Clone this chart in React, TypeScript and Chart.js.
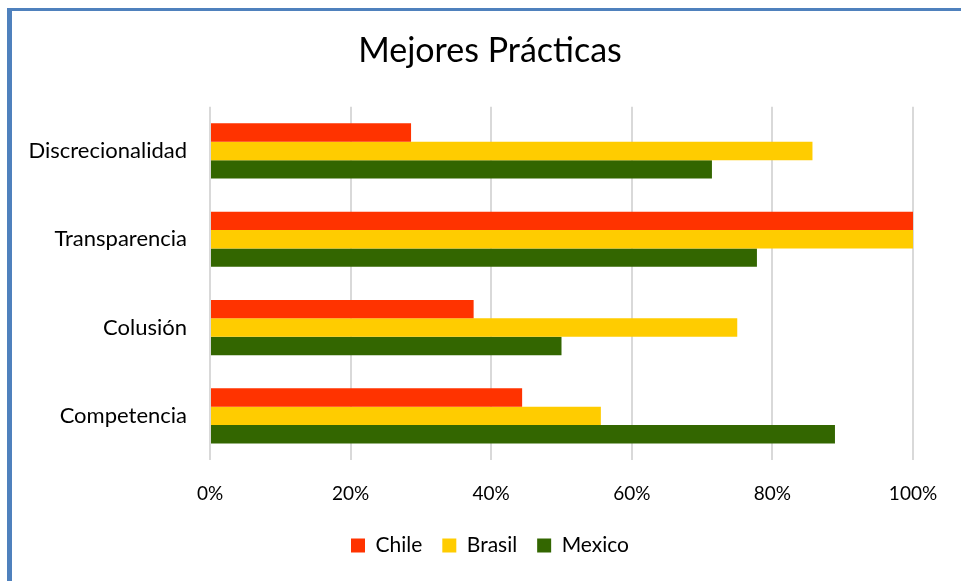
import React, { useEffect, useRef } from "react";
import { Chart, registerables } from "chart.js";

Chart.register(...registerables);

const categories = ["Discrecionalidad", "Transparencia", "Colusión", "Competencia"];
const chileValues = [28.6, 100, 37.5, 44.4];
const brasilValues = [85.7, 100, 75, 55.6];
const mexicoValues = [71.4, 77.8, 50, 88.9];
const xTicks = [0, 20, 40, 60, 80, 100];

const FONT = "Lato, 'Open Sans', sans-serif";

const unclipYLabels = {
  id: "unclipYLabels",
  afterLayout(chart: any) {
    const y = chart.scales.y;
    if (y) y.left = 0;
  },
};

export default function App() {
  const ref = useRef<HTMLCanvasElement | null>(null);

  useEffect(() => {
    if (!ref.current) return;
    const chart = new Chart(ref.current, {
      type: "bar",
      data: {
        labels: categories,
        datasets: [
          { label: "Chile", data: chileValues, backgroundColor: "#FF3300" },
          { label: "Brasil", data: brasilValues, backgroundColor: "#FFCC00" },
          { label: "Mexico", data: mexicoValues, backgroundColor: "#336600" },
        ],
      },
      plugins: [unclipYLabels],
      options: {
        indexAxis: "y",
        animation: false,
        responsive: false,
        maintainAspectRatio: false,
        datasets: {
          bar: { categoryPercentage: 0.625, barPercentage: 1 },
        },
        layout: { padding: { left: 67, right: 48, top: 10, bottom: 15 } },
        plugins: {
          title: {
            display: true,
            text: "Mejores Prácticas",
            color: "#000",
            font: { family: FONT, size: 34, weight: "normal" },
            padding: { top: 21, bottom: 35 },
          },
          legend: {
            position: "bottom",
            labels: {
              color: "#000",
              font: { family: FONT, size: 21 },
              boxWidth: 14,
              boxHeight: 14,
              padding: 20,
            },
          },
          tooltip: { enabled: false },
        },
        scales: {
          x: {
            min: 0,
            max: 100,
            afterBuildTicks: (scale: any) => {
              scale.ticks = xTicks.map((v) => ({ value: v }));
            },
            afterFit: (scale: any) => {
              scale.height = 55;
            },
            ticks: {
              color: "#000",
              font: { family: FONT, size: 19 },
              padding: 22,
              callback: (v: any) => v + "%",
            },
            grid: { color: "#d9d9d9", lineWidth: 2, drawTicks: false },
            border: { display: false },
          },
          y: {
            afterFit: (scale: any) => {
              scale.width = 143;
            },
            ticks: {
              color: "#000",
              font: { family: FONT, size: 22 },
              padding: 23,
            },
            grid: { display: false, drawTicks: false },
            border: { display: false },
          },
        },
      },
    });
    return () => chart.destroy();
  }, []);

  return (
    <div
      style={{
        position: "fixed",
        left: 0,
        top: 0,
        width: 961,
        height: 581,
        overflow: "hidden",
        background: "#fff",
      }}
    >
      <div
        style={{
          position: "absolute",
          left: 7,
          top: 8,
          width: 1000,
          height: 700,
          borderLeft: "5px solid #4F81BD",
          borderTop: "3px solid #4F81BD",
          boxSizing: "border-box",
        }}
      />
      <canvas
        ref={ref}
        width={961}
        height={581}
        style={{ position: "absolute", left: 0, top: 0, width: 961, height: 581 }}
      />
    </div>
  );
}
